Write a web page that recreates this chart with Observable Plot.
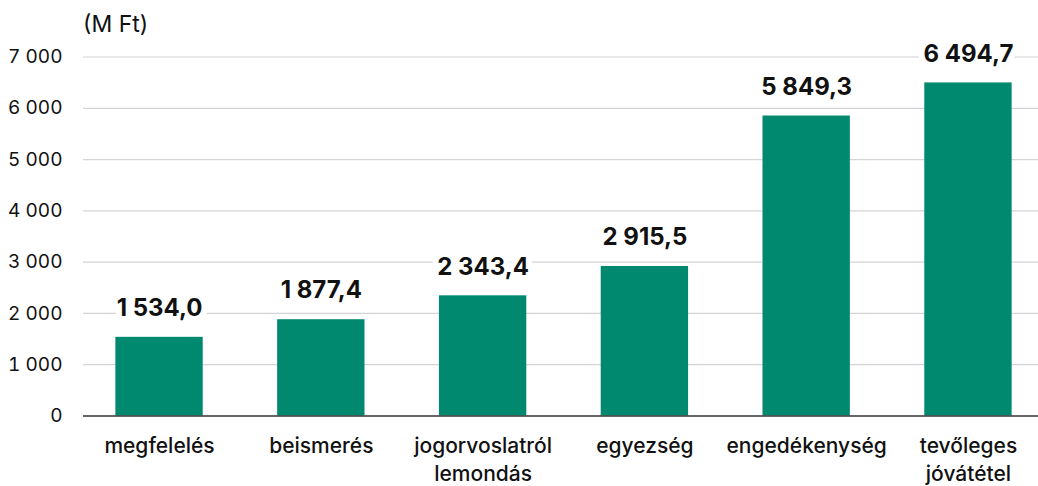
<!DOCTYPE html>
<html>
<head>
<meta charset="utf-8">
<script src="https://cdn.jsdelivr.net/npm/d3@7"></script>
<script src="https://cdn.jsdelivr.net/npm/@observablehq/plot@0.6"></script>
<style>
  html, body { margin: 0; padding: 0; background: #fff; }
  body { width: 1038px; height: 486px; overflow: hidden; font-family: Inter, "Noto Sans", sans-serif; }
  #unit { box-sizing: border-box; height: 40px; padding-top: 13px; padding-left: 83px; font-size: 23px; line-height: 23px; color: #111; }
</style>
</head>
<body>
<div id="unit">(M Ft)</div>
<div id="chart"></div>
<script>
const categories = ["megfelelés", "beismerés", "jogorvoslatról lemondás", "egyezség", "engedékenység", "tevőleges jóvátétel"];
const values = [1534.0, 1877.4, 2343.4, 2915.5, 5849.3, 6494.7];
const yTicks = [0, 1000, 2000, 3000, 4000, 5000, 6000, 7000];

const huLocale = d3.formatLocale({decimal: ",", thousands: " ", grouping: [3], currency: ["", " Ft"]});
const fmtTick = huLocale.format(",.0f");
const fmtValue = huLocale.format(",.1f");

const data = categories.map((c, i) => ({category: c, value: values[i]}));

const chart = Plot.plot({
  width: 1038,
  height: 446,
  marginLeft: 83,
  marginRight: 0,
  marginTop: 16.5,
  marginBottom: 70.5,
  style: {fontFamily: "Inter, 'Noto Sans', sans-serif", color: "#111", background: "#fff"},
  x: {domain: categories, range: [83, 1044], paddingInner: 0.46, paddingOuter: 0.2, round: false, label: null},
  y: {domain: [0, 7000], label: null},
  marks: [
    Plot.ruleY(yTicks.filter(d => d > 0), {stroke: "#d4d4d4", strokeWidth: 1.2}),
    Plot.barY(data, {x: "category", y: "value", fill: "#00896f"}),
    Plot.ruleY([0], {stroke: "#333", strokeWidth: 1.5}),
    Plot.text(data, {
      x: "category", y: "value", text: d => fmtValue(d.value),
      dy: -29, fontSize: 24, fontWeight: 700, fill: "#111",
      stroke: "white", strokeWidth: 12, strokeLinejoin: "round"
    }),
    Plot.axisY({ticks: yTicks, tickFormat: fmtTick, tickSize: 0, tickPadding: 21, fontSize: 19, label: null, fill: "#111"}),
    Plot.axisX({tickSize: 0, tickPadding: 18, fontSize: 21, fontWeight: 500, lineHeight: 1.3, label: null, fill: "#111",
      tickFormat: d => d.replace(" ", "\n")})
  ]
});
document.getElementById("chart").appendChild(chart);
</script>
</body>
</html>
